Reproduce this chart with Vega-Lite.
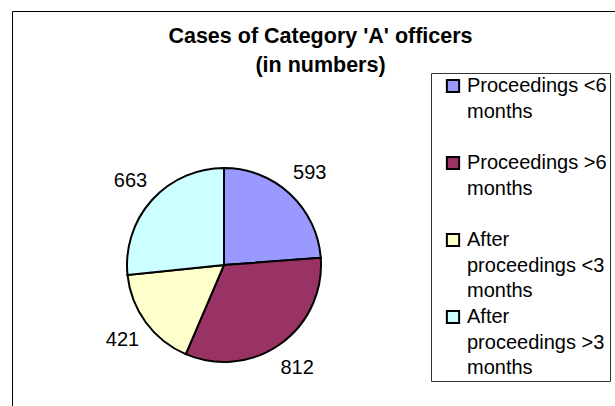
{
  "$schema": "https://vega.github.io/schema/vega-lite/v6.json",
  "width": 603,
  "height": 395,
  "autosize": {"type": "none"},
  "padding": {"left": 12, "top": 11, "right": 0, "bottom": 0},
  "background": "white",
  "view": {"stroke": "black", "strokeWidth": 1},
  "title": {
    "text": ["Cases of Category 'A' officers", "(in numbers)"],
    "anchor": "middle",
    "orient": "top",
    "font": "Liberation Sans",
    "fontSize": 21.5,
    "fontWeight": "bold",
    "lineHeight": 29,
    "color": "black",
    "offset": -65,
    "dx": 7
  },
  "data": {
    "values": [
      {"category": "Proceedings <6 months", "value": 593, "idx": 1},
      {"category": "Proceedings >6 months", "value": 812, "idx": 2},
      {"category": "After proceedings <3 months", "value": 421, "idx": 3},
      {"category": "After proceedings >3 months", "value": 663, "idx": 4}
    ]
  },
  "encoding": {
    "theta": {"field": "value", "type": "quantitative", "stack": true},
    "order": {"field": "idx", "type": "quantitative"}
  },
  "layer": [
    {
      "mark": {"type": "arc", "outerRadius": 97, "x": 212, "y": 254, "stroke": "black", "strokeWidth": 2},
      "encoding": {
        "color": {
          "field": "category",
          "type": "nominal",
          "sort": ["Proceedings <6 months", "Proceedings >6 months", "After proceedings <3 months", "After proceedings >3 months"],
          "scale": {
            "domain": ["Proceedings <6 months", "Proceedings >6 months", "After proceedings <3 months", "After proceedings >3 months"],
            "range": ["#9999FF", "#993366", "#FFFFCC", "#CCFFFF"]
          },
          "legend": {
            "title": null,
            "orient": "none",
            "legendX": 419,
            "legendY": 62,
            "direction": "vertical",
            "symbolType": "square",
            "symbolSize": 150,
            "symbolStrokeColor": "black",
            "symbolStrokeWidth": 2,
            "symbolOffset": 9,
            "padding": 3,
            "rowPadding": 5,
            "labelFont": "Liberation Sans",
            "labelFontSize": 20,
            "labelColor": "black",
            "labelLimit": 400,
            "labelOffset": 4,
            "labelBaseline": "middle",
            "labelExpr": "datum.label == 'Proceedings <6 months' ? ['Proceedings <6\u00a0\u00a0', 'months', ''] : datum.label == 'Proceedings >6 months' ? ['Proceedings >6\u00a0\u00a0', 'months', ''] : datum.label == 'After proceedings <3 months' ? ['After', 'proceedings <3\u00a0\u00a0', 'months'] : ['After', 'proceedings >3\u00a0\u00a0', 'months']",
            "fillColor": "white",
            "strokeColor": "#333333"
          }
        }
      }
    },
    {
      "mark": {"type": "text", "radius": 126, "x": 212, "y": 254, "font": "Liberation Sans", "fontSize": 20, "color": "black", "align": "center", "baseline": "middle"},
      "encoding": {
        "text": {"field": "value", "type": "quantitative"}
      }
    }
  ],
  "config": {
    "view": {"stroke": "black", "strokeWidth": 1},
    "style": {"guide-label": {"lineHeight": 25.5}}
  }
}
